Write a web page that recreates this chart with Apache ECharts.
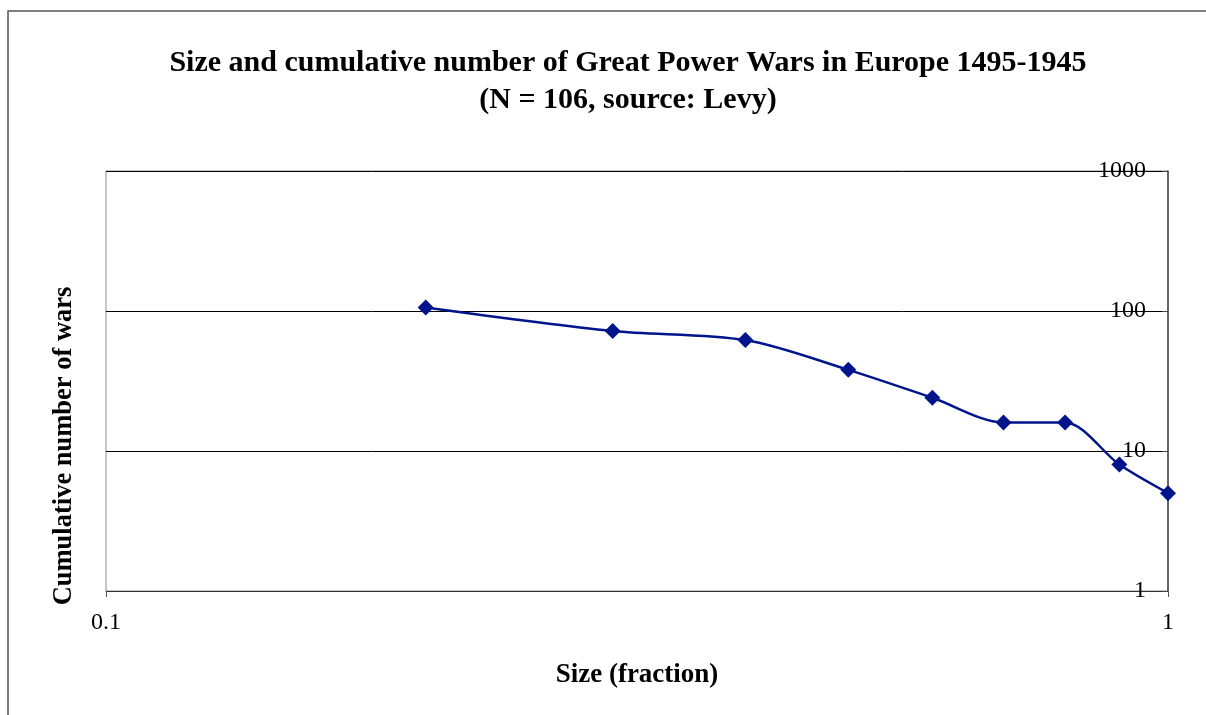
<!DOCTYPE html>
<html>
<head>
<meta charset="utf-8">
<script src="https://cdn.jsdelivr.net/npm/echarts@6/dist/echarts.min.js"></script>
<style>
html, body { margin: 0; padding: 0; background: #fff; }
#chart { width: 1206px; height: 715px; }
</style>
</head>
<body>
<div id="chart"></div>
<script>
'use strict';

// size (fraction) vs cumulative number of wars
var sizes = [0.2, 0.3, 0.4, 0.5, 0.6, 0.7, 0.8, 0.9, 1.0];
var cumWars = [106, 72, 62, 38, 24, 16, 16, 8, 5];
var xTicks = [0.1, 1];
var titleLines = ['Size and cumulative number of Great Power Wars in Europe 1495-1945', '(N = 106, source: Levy)'];

var font = '"Liberation Serif", "Times New Roman", serif';
var chart = echarts.init(document.getElementById('chart'));

var option = {
    animation: false,
    backgroundColor: '#fff',
    textStyle: {fontFamily: font},
    grid: {left: 106, right: 38, top: 171, bottom: 124, show: true, borderColor: '#8c8c8c', borderWidth: 1},
    xAxis: {
        type: 'log', logBase: 10, min: 0.1, max: 1,
        name: 'Size (fraction)', nameLocation: 'middle', nameGap: 71,
        nameTextStyle: {fontFamily: font, fontSize: 27, fontWeight: 'bold', color: '#000'},
        axisLine: {lineStyle: {color: '#333', width: 1}},
        axisTick: {show: true, length: 6, lineStyle: {color: '#555'}},
        axisLabel: {
            fontFamily: font, fontSize: 24, color: '#000', margin: 20,
            formatter: function (v) { return xTicks.indexOf(+v.toFixed(3)) >= 0 ? String(+v.toFixed(3)) : ''; }
        },
        splitLine: {show: false}
    },
    yAxis: {
        type: 'log', logBase: 10, min: 1, max: 1000, position: 'right',
        axisLine: {show: true, lineStyle: {color: '#444', width: 1.5}},
        axisTick: {show: true, inside: true, length: 6, lineStyle: {color: '#444'}},
        axisLabel: {
            inside: true, margin: 22, fontFamily: font, fontSize: 24, color: '#000',
            padding: [4, 0, 0, 0],
            formatter: function (v) { return String(Math.round(v)); }
        },
        splitLine: {show: true, lineStyle: {color: '#000', width: 1}}
    },
    graphic: [
        {type: 'rect', shape: {x: 8, y: 11, width: 1230, height: 740},
         style: {fill: 'none', stroke: '#555', lineWidth: 1.5}, silent: true, z: -1},
        {type: 'text', x: 628, y: 63,
         style: {text: titleLines[0], font: 'bold 30px ' + font, fill: '#000',
                 textAlign: 'center', textVerticalAlign: 'middle'}},
        {type: 'text', x: 628, y: 100,
         style: {text: titleLines[1], font: 'bold 30px ' + font, fill: '#000',
                 textAlign: 'center', textVerticalAlign: 'middle'}},
        {type: 'text', x: 64, y: 446, rotation: Math.PI / 2,
         style: {text: 'Cumulative number of wars', font: 'bold 26.5px ' + font, fill: '#000',
                 textAlign: 'center', textVerticalAlign: 'middle'}}
    ],
    series: [{
        type: 'line',
        data: sizes.map(function (s, i) { return [s, cumWars[i]]; }),
        smooth: 0.3,
        symbol: 'diamond', symbolSize: 16,
        itemStyle: {color: '#00148c'},
        lineStyle: {color: '#00148c', width: 2.5}
    }]
};
chart.setOption(option);
</script>
</body>
</html>
